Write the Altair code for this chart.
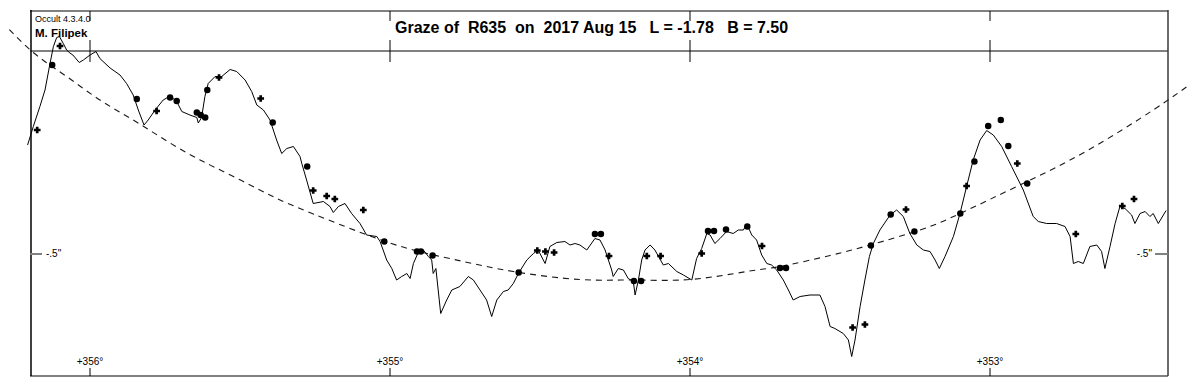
import altair as alt
import pandas as pd

# ---------------- data (longitude in degrees, height in arcsec) ----------------
profile_lon = [356.208, 356.189, 356.167, 356.150, 356.133, 356.122, 356.111, 356.102, 356.089, 356.078,
               356.067, 356.057, 356.036, 356.022, 356.000, 355.980, 355.967, 355.933, 355.900, 355.878,
               355.856, 355.839, 355.820, 355.806, 355.783, 355.756, 355.733, 355.711, 355.694, 355.667,
               355.644, 355.639, 355.628, 355.617, 355.606, 355.583, 355.561, 355.533, 355.511, 355.483,
               355.461, 355.444, 355.422, 355.400, 355.378, 355.361, 355.344, 355.322, 355.300, 355.294,
               355.278, 355.256, 355.222, 355.200, 355.189, 355.172, 355.150, 355.128, 355.100, 355.078,
               355.044, 355.033, 355.011, 354.994, 354.978, 354.961, 354.944, 354.933, 354.922, 354.906,
               354.889, 354.872, 354.861, 354.856, 354.847, 354.831, 354.811, 354.794, 354.767, 354.739,
               354.722, 354.700, 354.678, 354.661, 354.644, 354.622, 354.606, 354.589, 354.572, 354.544,
               354.522, 354.506, 354.483, 354.467, 354.444, 354.417, 354.400, 354.383, 354.367, 354.344,
               354.317, 354.300, 354.283, 354.261, 354.256, 354.239, 354.222, 354.206, 354.189, 354.183,
               354.172, 354.161, 354.150, 354.133, 354.117, 354.089, 354.072, 354.044, 354.022, 353.994,
               353.978, 353.961, 353.944, 353.933, 353.917, 353.900, 353.878, 353.856, 353.839, 353.822,
               353.811, 353.794, 353.778, 353.761, 353.744, 353.728, 353.711, 353.689, 353.672, 353.656,
               353.633, 353.600, 353.567, 353.550, 353.533, 353.517, 353.489, 353.472, 353.461, 353.450,
               353.433, 353.417, 353.402, 353.389, 353.367, 353.333, 353.311, 353.289, 353.267, 353.244,
               353.222, 353.200, 353.183, 353.169, 353.150, 353.122, 353.100, 353.078, 353.056, 353.033,
               353.011, 352.989, 352.961, 352.928, 352.889, 352.856, 352.839, 352.811, 352.778, 352.750,
               352.733, 352.722, 352.706, 352.689, 352.667, 352.644, 352.628, 352.617, 352.600, 352.583,
               352.567, 352.550, 352.528, 352.517, 352.500, 352.483, 352.467, 352.456, 352.439, 352.422, 352.413]
profile_arc = [-0.282, -0.245, -0.205, -0.172, -0.118, -0.085, -0.067, -0.065, -0.079, -0.092,
               -0.098, -0.102, -0.117, -0.112, -0.102, -0.095, -0.109, -0.128, -0.142, -0.159,
               -0.182, -0.212, -0.242, -0.232, -0.212, -0.192, -0.184, -0.195, -0.215, -0.222,
               -0.227, -0.238, -0.227, -0.185, -0.159, -0.145, -0.145, -0.131, -0.135, -0.152,
               -0.175, -0.202, -0.212, -0.232, -0.272, -0.299, -0.289, -0.285, -0.305, -0.319,
               -0.352, -0.399, -0.395, -0.405, -0.417, -0.405, -0.399, -0.419, -0.439, -0.462,
               -0.465, -0.475, -0.512, -0.529, -0.552, -0.545, -0.539, -0.549, -0.519, -0.497,
               -0.492, -0.505, -0.512, -0.539, -0.529, -0.619, -0.592, -0.572, -0.565, -0.545,
               -0.552, -0.572, -0.592, -0.625, -0.592, -0.575, -0.572, -0.559, -0.539, -0.512,
               -0.499, -0.492, -0.519, -0.485, -0.477, -0.475, -0.482, -0.479, -0.482, -0.492,
               -0.469, -0.472, -0.492, -0.532, -0.545, -0.529, -0.532, -0.549, -0.555, -0.582,
               -0.552, -0.512, -0.492, -0.482, -0.492, -0.522, -0.519, -0.535, -0.542, -0.552,
               -0.509, -0.489, -0.459, -0.462, -0.479, -0.469, -0.455, -0.459, -0.452, -0.452,
               -0.440, -0.462, -0.472, -0.502, -0.519, -0.522, -0.532, -0.552, -0.572, -0.592,
               -0.585, -0.582, -0.582, -0.605, -0.645, -0.649, -0.659, -0.672, -0.705, -0.672,
               -0.605, -0.552, -0.505, -0.479, -0.452, -0.422, -0.412, -0.425, -0.459, -0.482,
               -0.492, -0.495, -0.512, -0.529, -0.505, -0.465, -0.419, -0.365, -0.312, -0.272,
               -0.253, -0.262, -0.285, -0.325, -0.372, -0.425, -0.435, -0.439, -0.439, -0.445,
               -0.465, -0.519, -0.515, -0.519, -0.485, -0.482, -0.495, -0.529, -0.485, -0.439,
               -0.405, -0.409, -0.422, -0.439, -0.419, -0.415, -0.425, -0.419, -0.439, -0.422, -0.413]

mean_lon = [356.294, 356.189, 356.078, 355.967, 355.856, 355.744, 355.633, 355.522, 355.411, 355.300,
            355.089, 354.922, 354.756, 354.589, 354.367, 354.189, 354.000, 353.811, 353.700, 353.533,
            353.400, 353.233, 353.100, 352.900, 352.678, 352.456, 352.322]
mean_arc = [-0.035, -0.097, -0.145, -0.192, -0.232, -0.274, -0.312, -0.345, -0.379, -0.409,
            -0.459, -0.492, -0.515, -0.535, -0.551, -0.552, -0.551, -0.535, -0.525, -0.503,
            -0.482, -0.452, -0.419, -0.362, -0.294, -0.212, -0.156]

dot_lon = [356.126, 355.844, 355.733, 355.711, 355.644, 355.631, 355.616, 355.609, 355.391, 355.276,
           355.019, 354.910, 354.897, 354.858, 354.571, 354.317, 354.297, 354.187, 354.163, 353.940,
           353.920, 353.880, 353.809, 353.700, 353.680, 353.397, 353.331, 353.252, 353.099, 353.052,
           353.006, 352.964, 352.939, 352.876]
dot_arc = [-0.122, -0.190, -0.187, -0.194, -0.217, -0.222, -0.227, -0.172, -0.237, -0.325,
           -0.475, -0.495, -0.495, -0.503, -0.537, -0.460, -0.460, -0.554, -0.554, -0.454,
           -0.454, -0.451, -0.445, -0.528, -0.528, -0.483, -0.421, -0.455, -0.419, -0.315,
           -0.244, -0.232, -0.284, -0.359]

plus_lon = [356.176, 356.100, 355.778, 355.570, 355.431, 355.256, 355.211, 355.184, 355.089, 354.509,
            354.482, 354.453, 354.270, 354.144, 354.098, 353.961, 353.760, 353.458, 353.417, 353.280,
            353.078, 352.909, 352.714, 352.559, 352.520]
plus_arc = [-0.252, -0.084, -0.214, -0.147, -0.189, -0.373, -0.384, -0.390, -0.412, -0.493,
            -0.495, -0.497, -0.504, -0.504, -0.504, -0.499, -0.484, -0.647, -0.641, -0.411,
            -0.364, -0.319, -0.460, -0.404, -0.390]

deg_lon = [356, 355, 354, 353]
deg_labels = ["+356°", "+355°", "+354°", "+353°"]
height_ticks = [-0.5]
height_labels = ['-.5"']

title_text = "Graze of\u00a0\u00a0R635\u00a0\u00a0on\u00a0\u00a02017 Aug 15\u00a0\u00a0\u00a0L = -1.78\u00a0\u00a0\u00a0B = 7.50"
program_text = "Occult 4.3.4.0"
observer_text = "M. Filipek"

# ---------------- chart ----------------
W, H = 1138, 366
FONT = "Liberation Sans"
GRAY = "#808080"

xs = alt.Scale(domain=[356.2, 352.40667], nice=False, zero=False)
ys = alt.Scale(domain=[-0.744, -0.012], nice=False, zero=False)


def X(f):
    return alt.X(f, type="quantitative", scale=xs, axis=None)


def Y(f):
    return alt.Y(f, type="quantitative", scale=ys, axis=None)


profile_df = pd.DataFrame({"lon": profile_lon, "arc": profile_arc, "i": range(len(profile_lon))})
mean_df = pd.DataFrame({"lon": mean_lon, "arc": mean_arc, "i": range(len(mean_lon))})
dot_df = pd.DataFrame({"lon": dot_lon, "arc": dot_arc})
plus_df = pd.DataFrame({"lon": plus_lon, "arc": plus_arc})
deg_df = pd.DataFrame({"lon": deg_lon, "label": deg_labels})
hgt_df = pd.DataFrame({"arc": height_ticks, "label": height_labels})
one = pd.DataFrame({"a": [0]})

frame = alt.Chart(one)
top_border = frame.mark_rule(color=GRAY, strokeWidth=2).encode(x=alt.value(0), x2=alt.value(W), y=alt.value(1))
head_line = frame.mark_rule(color=GRAY, strokeWidth=2).encode(x=alt.value(0), x2=alt.value(W), y=alt.value(41))
bottom_border = frame.mark_rule(color=GRAY, strokeWidth=2).encode(x=alt.value(0), x2=alt.value(W), y=alt.value(H))
left_border = frame.mark_rule(color="black", strokeWidth=1.5).encode(x=alt.value(1), y=alt.value(0), y2=alt.value(H))
right_border = frame.mark_rule(color="#3a3a3a", strokeWidth=1.5).encode(x=alt.value(W), y=alt.value(0), y2=alt.value(H))

deg = alt.Chart(deg_df)
top_ticks_a = deg.mark_rule(color="black", strokeWidth=1).encode(x=X("lon"), y=alt.value(1), y2=alt.value(11))
top_ticks_b = deg.mark_rule(color="black", strokeWidth=1).encode(x=X("lon"), y=alt.value(30), y2=alt.value(52))
bot_ticks = deg.mark_rule(color="black", strokeWidth=1).encode(x=X("lon"), y=alt.value(358), y2=alt.value(H))
bot_labels = deg.mark_text(font=FONT, fontSize=10, align="center", baseline="alphabetic", color="black").encode(
    x=X("lon"), y=alt.value(355), text="label:N")

hgt = alt.Chart(hgt_df)
left_tick = hgt.mark_rule(color=GRAY, strokeWidth=2).encode(y=Y("arc"), x=alt.value(0), x2=alt.value(12))
right_tick = hgt.mark_rule(color=GRAY, strokeWidth=2).encode(y=Y("arc"), x=alt.value(W - 13), x2=alt.value(W))
left_label = hgt.mark_text(font=FONT, fontSize=10, align="left", baseline="middle", color="black").encode(
    y=Y("arc"), x=alt.value(16), text="label:N")
right_label = hgt.mark_text(font=FONT, fontSize=10, align="right", baseline="middle", color="black").encode(
    y=Y("arc"), x=alt.value(W - 16), text="label:N")

mean_line = alt.Chart(mean_df).mark_line(color="#1a1a1a", strokeWidth=1.1, strokeDash=[6, 5],
                                         interpolate="natural").encode(x=X("lon"), y=Y("arc"), order="i:Q")
profile_line = alt.Chart(profile_df).mark_line(color="black", strokeWidth=1).encode(
    x=X("lon"), y=Y("arc"), order="i:Q")
dots = alt.Chart(dot_df).mark_circle(color="black", size=42, opacity=1).encode(x=X("lon"), y=Y("arc"))
pluses = alt.Chart(plus_df).mark_point(shape="cross", filled=True, color="black", size=45, opacity=1).encode(
    x=X("lon"), y=Y("arc"))

title = frame.mark_text(text=title_text, font=FONT, fontSize=16, fontWeight="bold", align="left",
                        baseline="alphabetic", color="black").encode(x=alt.value(365), y=alt.value(23))
program = frame.mark_text(text=program_text, font=FONT, fontSize=9, align="left",
                          baseline="alphabetic", color="black").encode(x=alt.value(5), y=alt.value(12))
observer = frame.mark_text(text=observer_text, font=FONT, fontSize=11.5, fontWeight="bold", align="left",
                           baseline="alphabetic", color="black").encode(x=alt.value(5), y=alt.value(26.5))

chart = alt.layer(
    top_border, head_line, bottom_border, left_border, right_border,
    top_ticks_a, top_ticks_b, bot_ticks, bot_labels,
    left_tick, right_tick, left_label, right_label,
    mean_line, profile_line, dots, pluses,
    title, program, observer,
).properties(
    width=W, height=H,
    autosize=alt.AutoSizeParams(type="none"),
    padding={"left": 22, "top": 2, "right": 22, "bottom": 6},
    background="white",
).configure_view(stroke=None)

chart.save("out.html", embed_options={"renderer": "svg", "actions": False})
